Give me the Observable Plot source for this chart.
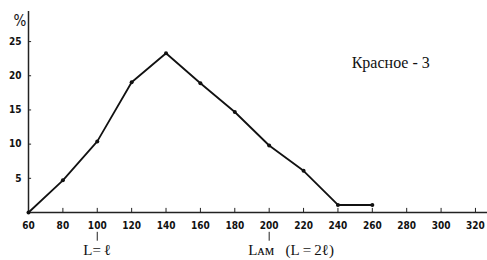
<!DOCTYPE html>
<html>
<head>
<meta charset="utf-8">
<script src="https://cdn.jsdelivr.net/npm/d3@7"></script>
<script src="https://cdn.jsdelivr.net/npm/@observablehq/plot@0.6"></script>
<style>
  html, body { margin: 0; padding: 0; background: #fff; }
  #chart { width: 487px; height: 260px; }
</style>
</head>
<body>
<div id="chart"></div>
<script>
const lengths = [60, 80, 100, 120, 140, 160, 180, 200, 220, 240, 260];
const percents = [0, 4.7, 10.4, 19.05, 23.3, 18.9, 14.7, 9.8, 6.1, 1.1, 1.1];
const xTicks = [60, 80, 100, 120, 140, 160, 180, 200, 220, 240, 260, 280, 300, 320];
const yTicks = [5, 10, 15, 20, 25];
const title = "Красное - 3";
const markerX = [100, 200];
const markerLabels = ["L=\u2009ℓ", "Lᴀᴍ\u00A0\u00A0\u00A0(L\u2009=\u20092ℓ)"];

const data = lengths.map((x, i) => ({x, y: percents[i]}));
const font = "'Liberation Sans Narrow', 'DejaVu Sans Condensed', 'Liberation Sans', sans-serif";
const serif = "'Liberation Serif', 'DejaVu Serif', serif";

const chart = Plot.plot({
  width: 487,
  height: 260,
  marginLeft: 28,
  marginRight: 0,
  marginTop: 11,
  marginBottom: 48,
  style: {fontFamily: font, fontSize: "10px", color: "#111", background: "#fff"},
  x: {domain: [60, 327], label: null},
  y: {domain: [0, 29.4], label: null},
  marks: [
    Plot.axisX({ticks: xTicks, tickSize: 0, tickPadding: 9, fontSize: 10, fontWeight: 600, tickFormat: d => d, label: null}),
    Plot.axisY({ticks: yTicks, tickSize: 0, tickPadding: 7, fontSize: 10, fontWeight: 600, tickFormat: d => d, label: null}),
    Plot.ruleY([0], {stroke: "#222", strokeWidth: 1.3}),
    Plot.ruleX([60], {y1: 0, y2: 29.4, stroke: "#222", strokeWidth: 1.5}),
    Plot.ruleX(xTicks, {y1: 0, y2: 0.6, stroke: "#222", strokeWidth: 1}),
    Plot.ruleY(yTicks, {x1: 60, x2: 61.8, stroke: "#222", strokeWidth: 1}),
    Plot.line(data, {x: "x", y: "y", stroke: "#111", strokeWidth: 1.8}),
    Plot.dot(data, {x: "x", y: "y", r: 2, fill: "#111"}),
    Plot.ruleX(markerX, {y1: -2.9, y2: -4.2, stroke: "#222", strokeWidth: 1}),
    Plot.text([markerLabels[0]], {x: markerX[0], y: 0, dy: 38, text: d => d, textAnchor: "middle", fontFamily: serif, fontSize: 15, fill: "#111"}),
    Plot.text([markerLabels[1]], {x: markerX[1], y: 0, dy: 38, dx: -21, text: d => d, textAnchor: "start", fontFamily: serif, fontSize: 15, fill: "#111"}),
    Plot.text([title], {x: 248, y: 21.9, text: d => d, textAnchor: "start", fontFamily: serif, fontSize: 16, fill: "#111"}),
    Plot.text(["%"], {frameAnchor: "top-left", dx: -15, dy: 4, text: d => d, fontFamily: font, fontSize: 15, fill: "#111"})
  ]
});
document.getElementById("chart").appendChild(chart);
</script>
</body>
</html>
